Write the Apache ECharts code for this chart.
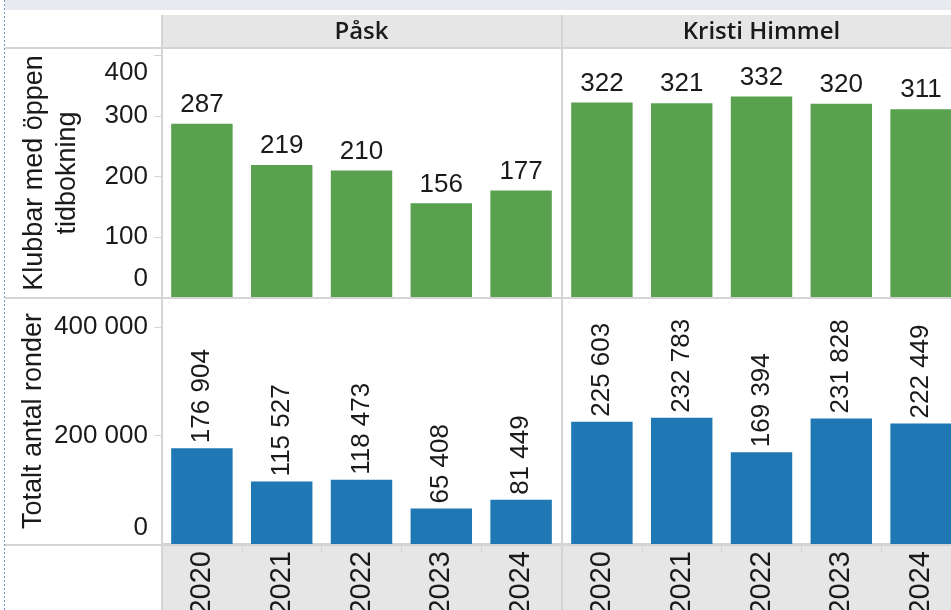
<!DOCTYPE html>
<html>
<head>
    <meta charset="utf-8">
    <script src="https://cdn.jsdelivr.net/npm/echarts@6/dist/echarts.min.js"></script>
    <style>
        html, body { margin: 0; padding: 0; background: #fff; overflow: hidden; }
    </style>
</head>
<body>
    <!-- the right panel runs past the window edge, as in the cropped original -->
    <div id="main" style="width: 961px;height:610px;"></div>
    <script type="text/javascript">

    var years = ['2020', '2021', '2022', '2023', '2024'];
    var holidays = ['Påsk', 'Kristi Himmel'];
    var klubbarPask = [287, 219, 210, 156, 177];
    var klubbarHimmel = [322, 321, 332, 320, 311];
    var ronderPask = [176904, 115527, 118473, 65408, 81449];
    var ronderHimmel = [225603, 232783, 169394, 231828, 222449];
    var klubbarTicks = [0, 100, 200, 300, 400];
    var ronderTicks = [0, 200000, 400000];

    var green = '#59a14f';
    var blue = '#1f77b4';
    var lineColor = '#d4d4d4';
    var textColor = '#1a1a1a';
    var numFont = '"Liberation Sans", Arial, sans-serif';

    // panel geometry (Tableau-like grid)
    var colLeft = [162, 562];
    var colWidth = 399;
    var rowTop = [48, 298];
    var rowHeight = [250, 246];

    function fmt(v) {
        return String(v).replace(/\B(?=(\d{3})+(?!\d))/g, ' ');
    }

    var myChart = echarts.init(document.getElementById('main'));

    var grids = [], xAxes = [], yAxes = [], series = [];
    var rows = [
        {values: [klubbarPask, klubbarHimmel], color: green, max: 412, ticks: klubbarTicks, interval: 100,
         name: 'Klubbar med öppen\ntidbokning', nameGap: 78, topPad: 36, bottomPad: 38},
        {values: [ronderPask, ronderHimmel], color: blue, max: 454000, ticks: ronderTicks, interval: 200000,
         name: 'Totalt antal ronder', nameGap: 109, topPad: 0, bottomPad: 32}
    ];

    rows.forEach(function (row, r) {
        var top = row.ticks[row.ticks.length - 1];
        holidays.forEach(function (h, c) {
            var idx = grids.length;
            grids.push({
                left: colLeft[c], top: rowTop[r], width: colWidth, height: rowHeight[r],
                containLabel: false,
                outerBoundsMode: 'none'
            });
            xAxes.push({
                type: 'category',
                gridIndex: idx,
                data: years,
                axisLine: {show: true, lineStyle: {color: lineColor, width: 2}},
                axisTick: {show: r === 1, length: 9, lineStyle: {color: lineColor}},
                axisLabel: {
                    show: r === 1,
                    rotate: 90,
                    margin: 7,
                    fontSize: 29,
                    fontFamily: numFont,
                    color: textColor
                }
            });
            yAxes.push({
                type: 'value',
                gridIndex: idx,
                min: 0,
                max: row.max,
                interval: row.interval,
                name: c === 0 ? row.name : '',
                nameLocation: 'middle',
                nameRotate: 90,
                nameGap: row.nameGap,
                nameTextStyle: {fontSize: 27, fontFamily: numFont, color: textColor, lineHeight: 33},
                axisLine: {show: true, lineStyle: {color: lineColor, width: 2}},
                axisTick: {show: c === 0, length: 8, lineStyle: {color: lineColor}},
                splitLine: {show: false},
                axisLabel: {
                    show: c === 0,
                    margin: 14,
                    fontSize: 26,
                    fontFamily: numFont,
                    color: textColor,
                    // Tableau pushes the edge labels inside the pane
                    formatter: function (v) {
                        if (row.ticks.indexOf(v) < 0) return '';
                        if (v === 0) return '{low|' + fmt(v) + '}';
                        if (v === top) return '{high|' + fmt(v) + '}';
                        return fmt(v);
                    },
                    rich: {
                        low: {fontSize: 26, fontFamily: numFont, color: textColor, padding: [0, 0, row.bottomPad, 0]},
                        high: {fontSize: 26, fontFamily: numFont, color: textColor, padding: [row.topPad, 0, 0, 0]}
                    }
                }
            });
            series.push({
                type: 'bar',
                xAxisIndex: idx,
                yAxisIndex: idx,
                data: row.values[c],
                barCategoryGap: '23%',
                itemStyle: {color: row.color},
                label: r === 0 ? {
                    show: true,
                    position: 'top',
                    distance: 6,
                    fontSize: 26,
                    fontFamily: numFont,
                    color: textColor,
                    formatter: function (p) { return fmt(p.value); }
                } : {
                    show: true,
                    position: 'top',
                    rotate: 90,
                    align: 'left',
                    verticalAlign: 'middle',
                    distance: 5,
                    fontSize: 26,
                    fontFamily: numFont,
                    color: textColor,
                    formatter: function (p) { return fmt(p.value); }
                }
            });
        });
    });

    var graphics = [
        // title strip (cropped)
        {type: 'rect', z: -10, shape: {x: 5, y: 0, width: 956, height: 10}, style: {fill: '#e7eaee'}},
        // column header strip
        {type: 'rect', z: -10, shape: {x: 162, y: 15, width: 799, height: 33}, style: {fill: '#e6e6e6'}},
        // year header strip
        {type: 'rect', z: -10, shape: {x: 162, y: 545, width: 799, height: 65}, style: {fill: '#e6e6e6'}},
        // separators
        {type: 'line', z: 5, shape: {x1: 5, y1: 48, x2: 961, y2: 48}, style: {stroke: lineColor, lineWidth: 2}},
        {type: 'line', z: 5, shape: {x1: 5, y1: 298, x2: 961, y2: 298}, style: {stroke: lineColor, lineWidth: 2}},
        {type: 'line', z: 5, shape: {x1: 5, y1: 545, x2: 961, y2: 545}, style: {stroke: lineColor, lineWidth: 2}},
        {type: 'line', z: 5, shape: {x1: 162, y1: 15, x2: 162, y2: 610}, style: {stroke: lineColor, lineWidth: 2}},
        {type: 'line', z: 5, shape: {x1: 562, y1: 15, x2: 562, y2: 610}, style: {stroke: lineColor, lineWidth: 2}},
        // dotted left border
        {type: 'line', z: 5, shape: {x1: 4.5, y1: 0, x2: 4.5, y2: 610}, style: {stroke: '#6f96cf', lineWidth: 1, lineDash: [2, 2]}}
    ];
    holidays.forEach(function (h, c) {
        graphics.push({
            type: 'text',
            z: 5,
            x: colLeft[c] + colWidth / 2,
            y: 32,
            style: {
                text: h,
                align: 'center',
                verticalAlign: 'middle',
                fontSize: 24,
                fontWeight: 600,
                fontFamily: '"Open Sans", sans-serif',
                fill: textColor
            }
        });
    });

    myChart.setOption({
        animation: false,
        grid: grids,
        xAxis: xAxes,
        yAxis: yAxes,
        series: series,
        graphic: graphics
    });
    </script>
</body>
</html>
